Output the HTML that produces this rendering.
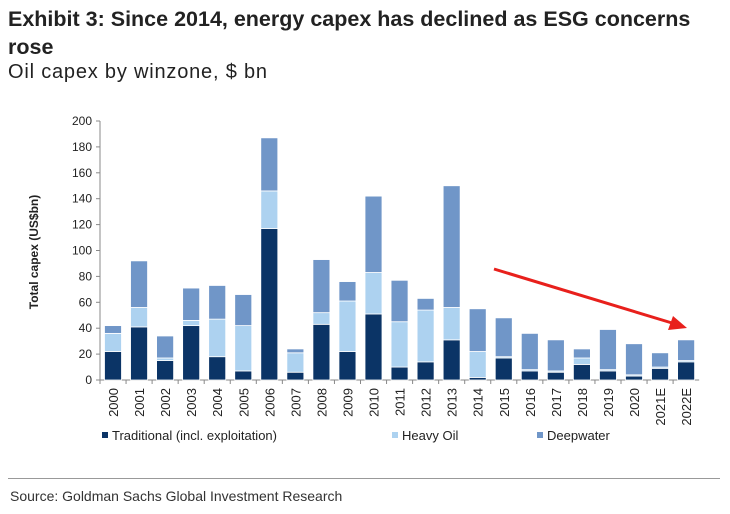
<!DOCTYPE html>
<html><head><meta charset="utf-8"><style>
body{margin:0;background:#fff;width:730px;height:514px;overflow:hidden;font-family:"Liberation Sans",sans-serif}
.t{position:absolute;left:8px;top:5px;font-size:21.5px;font-weight:bold;color:#222;line-height:28px;width:725px}
.s{position:absolute;left:8px;top:61px;font-size:20px;color:#222;letter-spacing:0.8px}
.src{position:absolute;left:10px;top:488px;font-size:14px;color:#333}
.rule{position:absolute;left:8px;top:478px;width:712px;height:1px;background:#999}
</style></head><body>
<div class="t">Exhibit 3: Since 2014, energy capex has declined as ESG concerns rose</div>
<div class="s">Oil capex by winzone, $ bn</div>
<div class="rule"></div>
<div class="src">Source: Goldman Sachs Global Investment Research</div>
<svg id="c" width="730" height="514" style="position:absolute;left:0;top:0"></svg>
<script>
const categories=["2000","2001","2002","2003","2004","2005","2006","2007","2008","2009","2010","2011","2012","2013","2014","2015","2016","2017","2018","2019","2020","2021E","2022E"];
const traditional=[22,41,15,42,18,7,117,6,43,22,51,10,14,31,2,17,7,6,12,7,3,9,14];
const heavyOil=[14,15,2,4,29,35,29,15,9,39,32,35,40,25,20,1,1,1,5,1,1,1,1];
const deepwater=[6,36,17,25,26,24,41,3,41,15,59,32,9,94,33,30,28,24,7,31,24,11,16];
const yTicks=[0,20,40,60,80,100,120,140,160,180,200];
const NS="http://www.w3.org/2000/svg",svg=document.getElementById('c');
const y0=380,y1=121,x0=100,step=26.05;
const y=v=>y0-(v/200)*(y0-y1);
const xc=i=>x0+13+i*step;
function mk(t,a,p){const e=document.createElementNS(NS,t);for(const k in a)e.setAttribute(k,a[k]);(p||svg).appendChild(e);return e;}
let ax=mk('line',{x1:x0,y1:y1,x2:x0,y2:y0,stroke:'#888'});


let bx=mk('line',{x1:x0,y1:y0,x2:x0+categories.length*step,y2:y0,stroke:'#888'});


yTicks.forEach(v=>{
 mk('line',{x1:x0-4,y1:y(v),x2:x0,y2:y(v),stroke:'#888'});
 let t=mk('text',{x:x0-8,y:y(v)+4,'text-anchor':'end','font-size':12,fill:'#222'});t.textContent=v;
 
 
});
let yl=mk('text',{x:0,y:0,transform:'translate(38,252) rotate(-90)','text-anchor':'middle','font-size':12,'font-weight':'bold',fill:'#222'});yl.textContent='Total capex (US$bn)';


const cols=['#0b3466','#add2f0','#7096c8'];
categories.forEach((c,i)=>{
 mk('line',{x1:x0+i*step,y1:y0,x2:x0+i*step,y2:y0+4,stroke:'#888'});
 let base=0;[traditional[i],heavyOil[i],deepwater[i]].forEach((v,k)=>{
  let r=mk('rect',{x:xc(i)-8.5,y:y(base+v),width:17,height:y(base)-y(base+v),fill:cols[k],stroke:'#fff','stroke-width':0.8});
  
  
  base+=v;});
 let t=mk('text',{x:0,y:0,transform:`translate(${xc(i)+5},${y0+8}) rotate(-90)`,'text-anchor':'end','font-size':13,fill:'#222'});t.textContent=c;
 
 
});
[['Traditional (incl. exploitation)',112],['Heavy Oil',402],['Deepwater',547]].forEach((l,k)=>{
 let g=mk('g',{});
 
 
 mk('rect',{x:l[1]-10,y:432,width:6,height:6,fill:cols[k]},g);
 let t=mk('text',{x:l[1],y:440,'font-size':13,fill:'#222'},g);t.textContent=l[0];
});
let ar=mk('g',{});


mk('line',{x1:494,y1:269,x2:672,y2:323,stroke:'#e8201c','stroke-width':3},ar);
mk('polygon',{points:'687,328 668,330 673,316',fill:'#e8201c'},ar);
</script>
</body></html>
